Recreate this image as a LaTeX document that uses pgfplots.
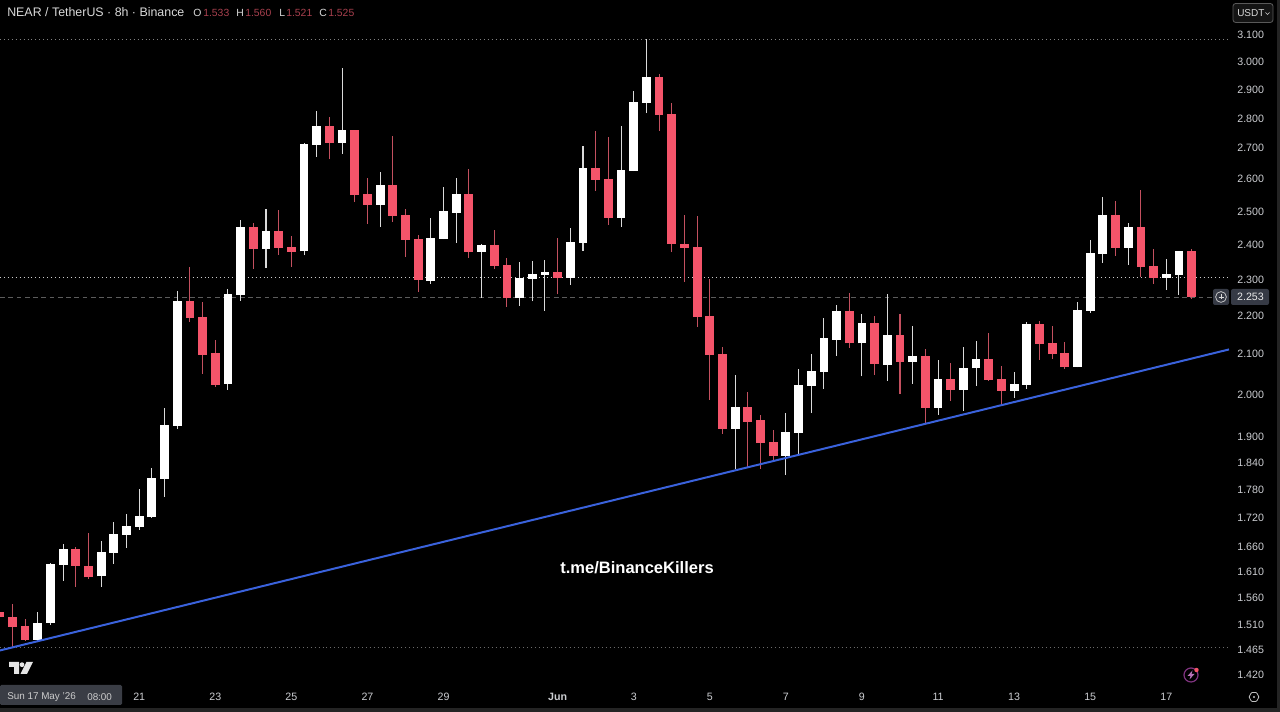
\documentclass[border=0pt]{standalone}
\usepackage{pgfplots}
\usepackage{pgfplotstable}
\usepackage{fontspec}
\setmainfont{Liberation Sans}
\pgfplotsset{compat=1.18}
\definecolor{cred}{HTML}{F4546A}
\definecolor{wickred}{HTML}{C4505F}
\definecolor{wickwhite}{HTML}{DADADA}
\definecolor{ticktxt}{HTML}{CCCED2}
\definecolor{trend}{HTML}{3A62DC}
\definecolor{lblbox}{HTML}{363A45}
\definecolor{ohlc}{HTML}{A8404E}
\definecolor{datebox}{HTML}{3A3D45}
% index open high low close
\pgfplotstableread{
i o h l c
2 1.483 1.534 1.478 1.514
3 1.514 1.628 1.510 1.626
4 1.625 1.667 1.593 1.657
7 1.602 1.673 1.582 1.651
8 1.649 1.711 1.627 1.687
9 1.685 1.729 1.659 1.703
10 1.702 1.782 1.696 1.725
11 1.722 1.829 1.721 1.807
12 1.804 1.967 1.765 1.927
13 1.925 2.269 1.918 2.242
17 2.026 2.275 2.011 2.261
18 2.258 2.474 2.242 2.453
20 2.388 2.508 2.334 2.440
23 2.381 2.718 2.369 2.714
24 2.711 2.826 2.672 2.773
26 2.718 2.978 2.681 2.761
29 2.520 2.623 2.453 2.581
33 2.297 2.479 2.289 2.421
34 2.418 2.576 2.417 2.501
35 2.495 2.604 2.406 2.554
37 2.380 2.403 2.250 2.400
40 2.250 2.351 2.228 2.305
41 2.302 2.354 2.240 2.317
42 2.314 2.356 2.215 2.322
44 2.305 2.450 2.286 2.409
45 2.406 2.708 2.382 2.636
48 2.480 2.774 2.453 2.630
49 2.626 2.895 2.626 2.857
50 2.854 3.085 2.818 2.945
57 1.918 2.048 1.826 1.970
61 1.856 1.955 1.813 1.911
62 1.908 2.063 1.858 2.023
63 2.021 2.101 1.955 2.058
64 2.056 2.196 2.014 2.143
65 2.138 2.231 2.096 2.214
67 2.128 2.205 2.044 2.182
69 2.074 2.261 2.033 2.151
71 2.081 2.174 2.026 2.096
73 1.967 2.086 1.951 2.038
75 2.011 2.119 1.960 2.066
76 2.064 2.135 2.021 2.089
79 2.009 2.056 1.992 2.026
80 2.023 2.184 2.014 2.180
84 2.068 2.239 2.067 2.217
85 2.215 2.415 2.209 2.377
86 2.374 2.544 2.348 2.489
88 2.392 2.465 2.342 2.453
91 2.305 2.359 2.272 2.317
92 2.314 2.382 2.258 2.382
}\whitecandles
\pgfplotstableread{
i o h l c
-1 1.533 1.560 1.521 1.525
0 1.524 1.549 1.469 1.506
1 1.507 1.521 1.481 1.483
5 1.657 1.660 1.582 1.623
6 1.623 1.689 1.597 1.600
14 2.240 2.337 2.185 2.196
15 2.198 2.239 2.051 2.099
16 2.104 2.138 2.019 2.023
19 2.453 2.464 2.331 2.388
21 2.440 2.505 2.371 2.392
22 2.395 2.426 2.336 2.380
25 2.773 2.805 2.664 2.718
27 2.761 2.762 2.528 2.551
28 2.554 2.605 2.462 2.520
30 2.581 2.741 2.468 2.486
31 2.489 2.508 2.365 2.415
32 2.417 2.428 2.267 2.300
36 2.554 2.632 2.362 2.380
38 2.400 2.444 2.331 2.339
39 2.342 2.362 2.226 2.250
43 2.321 2.421 2.259 2.305
46 2.636 2.759 2.563 2.598
47 2.601 2.738 2.459 2.480
51 2.945 2.956 2.758 2.813
52 2.815 2.852 2.379 2.403
53 2.403 2.489 2.293 2.391
54 2.393 2.485 2.172 2.198
55 2.201 2.302 1.987 2.099
56 2.101 2.119 1.906 1.918
58 1.970 2.006 1.829 1.934
59 1.939 1.951 1.827 1.885
60 1.887 1.915 1.844 1.856
66 2.214 2.263 2.117 2.128
68 2.182 2.201 2.048 2.076
70 2.151 2.206 2.001 2.081
72 2.096 2.114 1.929 1.967
74 2.038 2.078 1.984 2.011
77 2.089 2.156 2.033 2.036
78 2.038 2.071 1.977 2.009
81 2.180 2.188 2.086 2.127
82 2.129 2.174 2.088 2.101
83 2.104 2.132 2.063 2.068
87 2.489 2.532 2.368 2.392
89 2.453 2.566 2.308 2.336
90 2.339 2.388 2.289 2.305
93 2.382 2.388 2.247 2.252
}\redcandles
\begin{document}
\begin{tikzpicture}
\begin{axis}[
  at={(0,0)},anchor=south west,
  scale only axis,width=960pt,height=534pt,
  ymode=log,
  xmin=-0.978,xmax=99.97,ymin=1.3577,ymax=3.2352,
  axis background/.style={fill=black},
  axis line style={draw=none},
  tick style={draw=none},
  major tick length=0pt,
  ytick pos=right,yticklabel pos=right,
  xticklabel pos=bottom,
  ytick={3.1,3.0,2.9,2.8,2.7,2.6,2.5,2.4,2.3,2.2,2.1,2.0,1.9,1.84,1.78,1.72,1.66,1.61,1.56,1.51,1.465,1.42},
  yticklabels={3.100,3.000,2.900,2.800,2.700,2.600,2.500,2.400,2.300,2.200,2.100,2.000,1.900,1.840,1.780,1.720,1.660,1.610,1.560,1.510,1.465,1.420},
  xtick={10,16,22,28,34,43,49,55,61,67,73,79,85,91},
  xticklabels={21,23,25,27,29,\textbf{Jun},3,5,7,9,11,13,15,17},
  y tick label style={anchor=center,xshift=-22pt,text=ticktxt,font=\fontsize{8}{9}\selectfont},
  x tick label style={anchor=center,yshift=11.5pt,text=ticktxt,font=\fontsize{8}{9}\selectfont},
]
% price level lines
\addplot[white!50!black,line width=0.6pt,dash pattern=on 0.75pt off 2.2pt] coordinates {(-0.978,3.084) (95.95,3.084)};
\addplot[white!80!black,line width=0.6pt,dash pattern=on 0.75pt off 2.2pt] coordinates {(-0.978,2.3073) (95.95,2.3073)};
\addplot[white!42!black,line width=0.6pt,dash pattern=on 0.75pt off 2.2pt] coordinates {(-0.978,1.4695) (95.95,1.4695)};
\addplot[white!36!black,line width=0.6pt,dash pattern=on 3.6pt off 2.6pt] coordinates {(-0.978,2.251) (95.95,2.251)};
% wicks
\addplot[draw=none,no markers,error bars/.cd,y dir=plus,y explicit,error mark=none,
  error bar style={line width=0.8pt,draw=wickwhite}]
  table[x=i,y=l,y error expr=\thisrow{h}-\thisrow{l}] {\whitecandles};
\addplot[draw=none,no markers,error bars/.cd,y dir=plus,y explicit,error mark=none,
  error bar style={line width=0.8pt,draw=wickred}]
  table[x=i,y=l,y error expr=\thisrow{h}-\thisrow{l}] {\redcandles};
% bodies
\addplot[draw=none,no markers,error bars/.cd,y dir=plus,y explicit,error mark=none,
  error bar style={line width=6.6pt,draw=white}]
  table[x=i,y=o,y error expr=\thisrow{c}-\thisrow{o}] {\whitecandles};
\addplot[draw=none,no markers,error bars/.cd,y dir=plus,y explicit,error mark=none,
  error bar style={line width=6.6pt,draw=cred}]
  table[x=i,y=c,y error expr=\thisrow{o}-\thisrow{c}] {\redcandles};
% trend line
\addplot[trend,line width=1.5pt] coordinates {(-0.978,1.4635) (95.95,2.1126)};
\end{axis}
\begin{scope}[x=0.75pt,y=-0.75pt,yshift=534pt]
  % window edges
  \fill[white!14!black] (0,708) rectangle (1280,712);
  \fill[white!14!black] (1277,0) rectangle (1280,708);
  % title
  \node[anchor=west,inner sep=0pt,text=white!85!black,font=\fontsize{9.3}{11}\selectfont] at (7,12.5) {NEAR / TetherUS · 8h · Binance};
  \begin{scope}[every node/.style={anchor=west,inner sep=0pt,font=\fontsize{7.8}{9}\selectfont}]
    \node[text=white!85!black] at (193,12.5) {O};
    \node[text=ohlc] at (203,12.5) {1.533};
    \node[text=white!85!black] at (236,12.5) {H};
    \node[text=ohlc] at (245,12.5) {1.560};
    \node[text=white!85!black] at (279,12.5) {L};
    \node[text=ohlc] at (286,12.5) {1.521};
    \node[text=white!85!black] at (319,12.5) {C};
    \node[text=ohlc] at (328,12.5) {1.525};
  \end{scope}
  % currency button
  \draw[draw=white!35!black,fill=white!8!black,rounded corners=2pt,line width=0.6pt] (1233,3.5) rectangle (1273,22.5);
  \node[anchor=west,inner sep=0pt,text=white!85!black,font=\fontsize{7.5}{9}\selectfont] at (1237,13) {USDT};
  \draw[white!80!black,line width=0.5pt] (1265.5,12.5) -- (1267.5,14.5) -- (1269.5,12.5);
  % last price label
  \fill[lblbox,rounded corners=1.5pt] (1213,289) rectangle (1229,305);
  \fill[lblbox,rounded corners=1.5pt] (1231,289) rectangle (1269,305);
  \draw[white!85!black,line width=0.5pt] (1221,297) circle[radius=5.4];
  \draw[white!85!black,line width=0.5pt] (1218.5,297) -- (1223.5,297) (1221,294.5) -- (1221,299.5);
  \node[inner sep=0pt,text=white!92!black,font=\fontsize{8}{9}\selectfont] at (1250.5,297) {2.253};
  % watermark
  \node[inner sep=0pt,text=white,font=\bfseries\fontsize{12.4}{14}\selectfont] at (637,568) {t.me/BinanceKillers};
  % date box
  \fill[datebox,rounded corners=1pt] (0,685) rectangle (122,705);
  \node[anchor=west,inner sep=0pt,text=white!80!black,font=\fontsize{7.4}{9}\selectfont] at (7,697) {Sun 17 May '26};
  \node[anchor=west,inner sep=0pt,text=white!80!black,font=\fontsize{7.4}{9}\selectfont] at (87,697) {08:00};
  % logo
  \fill[white!90!black] (9,662) -- (19,662) -- (19,674) -- (14,674) -- (14,667) -- (9,667) -- cycle;
  \fill[white!90!black] (22,664.7) circle[radius=2.4];
  \fill[white!90!black] (26.5,662) -- (33,662) -- (27,674) -- (20.5,674) -- cycle;
  % lightning badge
  \draw[violet!75!white!80!black,line width=0.9pt] (1191,675) circle[radius=7];
  \fill[violet!55!white] (1192.5,670.5) -- (1187.5,676) -- (1190.5,676) -- (1189.5,679.5) -- (1194.5,674) -- (1191.5,674) -- cycle;
  \fill[cred] (1196.5,670) circle[radius=2.2];
  % settings icon
  \draw[white!75!black,line width=0.6pt,rounded corners=0.6pt] (1249,697) -- (1251.5,692.5) -- (1256.5,692.5) -- (1259,697) -- (1256.5,701.5) -- (1251.5,701.5) -- cycle;
  \fill[white!75!black] (1254,697) circle[radius=1.2];
\end{scope}
\end{tikzpicture}
\end{document}
